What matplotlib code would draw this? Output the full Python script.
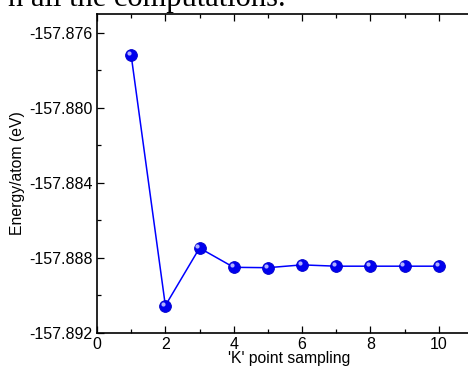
"""
    Energy per atom vs k-point sampling
"""

import matplotlib
matplotlib.use('Agg')
import matplotlib.pyplot as plt
import matplotlib.transforms as mtransforms
from matplotlib.ticker import MultipleLocator, FormatStrFormatter

k_points = [1, 2, 3, 4, 5, 6, 7, 8, 9, 10]
energy = [-157.87721, -157.89054, -157.88747, -157.88850, -157.88852,
          -157.88837, -157.88844, -157.88844, -157.88844, -157.88844]

plt.rcParams['font.family'] = ['Liberation Sans', 'DejaVu Sans']

fig = plt.figure(figsize=(4.68, 3.69), dpi=100)
ax = fig.add_axes([0.2073, 0.0976, 0.82, 0.8644])

ax.plot(k_points, energy, color='#0000ff', linewidth=1.1, zorder=2)
ax.plot(k_points, energy, linestyle='none', marker='o', markersize=8.5,
        markerfacecolor='#0000ee', markeredgecolor='#0000cc', markeredgewidth=0.6, zorder=3)
# little highlight so the markers look like shaded balls
shift = mtransforms.ScaledTranslation(-1.5 / 72, 1.5 / 72, fig.dpi_scale_trans)
ax.plot(k_points, energy, linestyle='none', marker='o', markersize=3,
        markerfacecolor='#b0b0ff', markeredgecolor='none', zorder=4,
        transform=ax.transData + shift)

ax.set_xlim(0, 11.23)
ax.set_ylim(-157.892, -157.875)
ax.xaxis.set_major_locator(MultipleLocator(2))
ax.xaxis.set_minor_locator(MultipleLocator(1))
ax.yaxis.set_major_locator(MultipleLocator(0.004))
ax.yaxis.set_minor_locator(MultipleLocator(0.002))
ax.yaxis.set_major_formatter(FormatStrFormatter('%.3f'))

ax.tick_params(which='both', direction='in', top=True, right=False, width=0.9)
ax.tick_params(which='major', length=5, pad=3)
ax.tick_params(which='minor', length=3)
ax.tick_params(axis='y', labelsize=11.5)
ax.tick_params(axis='x', labelsize=11.5)
for side in ax.spines.values():
    side.set_linewidth(1.2)
ax.spines['right'].set_visible(False)

ax.set_xlabel("'K' point sampling", fontsize=11.3, labelpad=-1)
ax.set_ylabel('Energy/atom (eV)', fontsize=11.3, labelpad=3)

# leftover line of the surrounding document, cut off at the top
fig.text(0.61, 1 - 6 / 369, 'n all the computations.', fontsize=22, family='Liberation Serif',
         ha='right', va='baseline')

fig.savefig('out.png', dpi=100)
